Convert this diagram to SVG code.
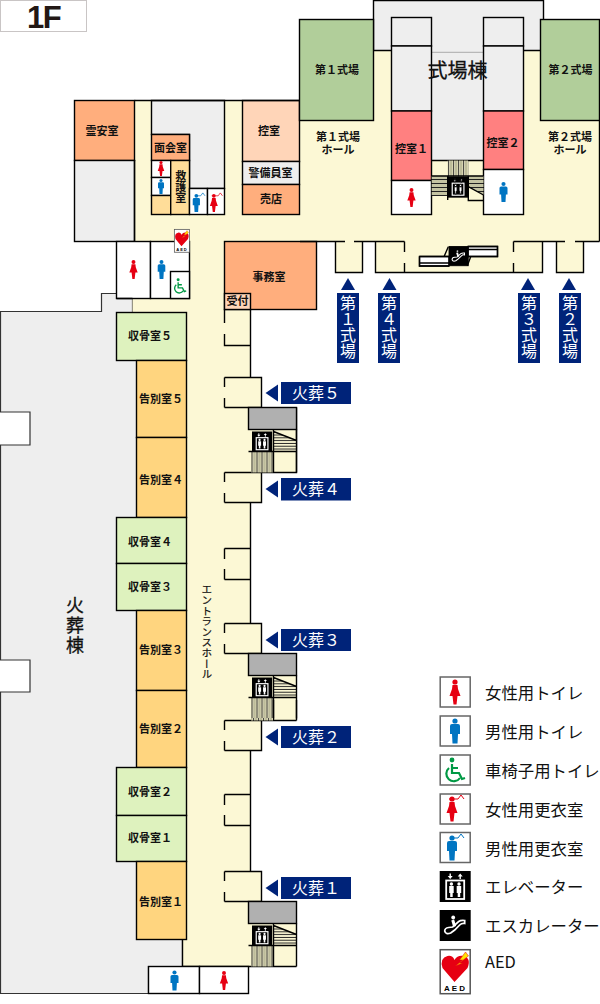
<svg xmlns="http://www.w3.org/2000/svg" width="600" height="1004" viewBox="0 0 600 1004">
<style>
text{font-family:"Noto Sans CJK JP","Noto Sans",sans-serif;fill:#111}
.b{font-size:11px;font-weight:700;text-anchor:middle}
.lg{font-size:16.4px}
.w{fill:#fff;font-size:16px}
.v{fill:#fff;font-size:16px;writing-mode:vertical-rl;text-orientation:upright}
.hv{stroke:#111;stroke-width:.3}
.l{stroke:#000;stroke-width:1.4;fill:none}
.s{stroke:#000;stroke-width:1.4}
.y{fill:#FCF8D5}.g{fill:#EEEEEE}.o{fill:#FFAE7D}.p{fill:#FFD5B8}.k{fill:#DEF2BE}.c{fill:#FFD57F}.m{fill:#FF8080}.h{fill:#B1CE9A}.wh{fill:#fff}
.n{fill:#002379}
.ib{fill:#fff;stroke:#666;stroke-width:1.5}
</style>
<defs>
<pattern id="tv" width="5" height="5" patternUnits="userSpaceOnUse"><rect width="5" height="5" fill="#FCF8D5"/><rect x="0" width="2.6" height="5" fill="#BDBC9A"/><rect x="3.2" width="1" height="5" fill="#222"/></pattern>
<pattern id="th" width="5" height="4" patternUnits="userSpaceOnUse"><rect width="5" height="4" fill="#C4C3A2"/><rect y="3" width="5" height="1" fill="#222"/></pattern>
<pattern id="tl" width="5" height="2.8" patternUnits="userSpaceOnUse"><rect width="5" height="2.8" fill="#FCF8D5"/><rect y="1.8" width="5" height="1" fill="#222"/></pattern>
<g id="f"><circle cy="-10" r="2.6" fill="#E60012"/><path fill="#E60012" d="M-2.5-7H2.5L3-3 5.5 4H2.5L1.5 12.5H-1.5L-2.5 4H-5.5L-3-3Z"/></g>
<g id="mm"><circle cy="-10" r="2.6" fill="#0075C2"/><path fill="#0075C2" d="M-3-7H3Q5-7 5-5V3H3L2.5 12.5H-2.5L-3 3H-5V-5Q-5-7-3-7Z"/></g>
<g id="wc" fill="none" stroke="#009944" stroke-width="2.2"><circle cx="-3" cy="-10" r="2.4" fill="#009944" stroke="none"/><path d="M-3-6V3H4L7 9 10 8M-3-2H3"/><path d="M-6-2A7.5 7.5 0 1 0 5 8"/></g>
<g id="fc"><use href="#f" x="-3"/><path d="M-1-10H3L6-14 9-10" fill="none" stroke="#E60012" stroke-width="1"/><rect x="-6" y="-10.5" width="1" height="1" fill="#E60012"/></g>
<g id="mc"><use href="#mm" x="-3"/><path d="M-1-10H3L6-14 9-10" fill="none" stroke="#0075C2" stroke-width="1"/></g>
<g id="ev"><rect width="31" height="31" fill="#000"/><rect x="6.500" y="9.500" width="18" height="18.500" fill="none" stroke="#fff" stroke-width="1.800"/><path fill="#fff" d="M10.500 8 8 5H9.800V2.500H11.200V5H13ZM20.500 2.500 23 5.500H21.200V8H19.800V5.500H18ZM9.500 15H14V22H13V26H10.500V22H9.500ZM17 15H21.500V22H20.500V26H18V22H17Z"/><circle cx="11.700" cy="13" r="1.700" fill="#fff"/><circle cx="19.300" cy="13" r="1.700" fill="#fff"/></g>
<g id="es"><rect width="31" height="31" fill="#000"/><path d="M5 21Q5 18 9 17.500L13 17 19 11.500Q21 10 25 10.500V13.500Q22 13 20 15L15 20 11 23Q6 25 5 21Z" fill="none" stroke="#fff" stroke-width="1.700"/><circle cx="13.500" cy="7.500" r="1.900" fill="#fff"/><path d="M13 10 15 16.500" stroke="#fff" stroke-width="3"/></g>
<g id="aed"><rect x=".7" y=".7" width="30" height="44" fill="#fff" stroke="#555" stroke-width="1.500"/><path d="M15 33 3 19Q0 9 8 7 13 6 15 11 18 6 24 7 32 9 28 19Z" fill="#E60012"/><path d="M26 3 20 11 23 11 16 17 23 14 20 14 29 7Z" fill="#FFE100" stroke="#E60012" stroke-width=".5"/><text x="16" y="42" font-size="8" font-weight="700" letter-spacing="2" text-anchor="middle" style="fill:#000;font-family:'Liberation Sans',sans-serif">AED</text></g>
<g id="stair"><rect x=".0" y="0" width="48" height="22" fill="#B0B0B0" class="s"/><rect x="2.500" y="44" width="22" height="21" fill="url(#tv)"/><polygon points="25,24 48,33 48,44 25,44" fill="url(#tl)"/><path class="l" d="M25 22V65M0 44H48M25 24 48 33M48 22V65"/><use href="#ev" transform="translate(3.500 24) scale(.65)"/></g>
</defs>

<g id="title"><rect x=".5" y=".5" width="86" height="31" fill="#fff" stroke="#C9C5C5" stroke-width="1"/><text x="43.500" y="28.400" text-anchor="middle" letter-spacing="-1.500" style="font-family:'Liberation Sans',sans-serif;font-size:31px;font-weight:700;fill:#231815">1F</text></g>

<g id="kasou-wing"><path class="g" stroke="#333" stroke-width="1.200" d="M.5 311.500H101.500V293.500H132.500V312.500H186V939.500H182.500V966.500H148.500V993.500H.5V692H30V660H.5V445H30V412H.5Z"/></g>

<g id="floor">
<rect class="y" x="134.500" y="100.500" width="465" height="141"/>
<rect class="y" x="299.500" y="50" width="300" height="60"/>
<rect class="y" x="189.500" y="241" width="35" height="60"/>
<rect class="y" x="132.500" y="298.500" width="100" height="15"/>
<rect class="y" x="186.500" y="298" width="64" height="642"/>
<rect class="y" x="182.500" y="939" width="68" height="27.500"/>
<rect class="y" x="335.500" y="241" width="27" height="31.500"/>
<rect class="y" x="375.500" y="241" width="167" height="31.500"/>
<rect class="y" x="556.500" y="241" width="27" height="31.500"/>
<rect class="y" x="224.500" y="309" width="26" height="36.500"/>
<rect class="y" x="224.500" y="377.500" width="37" height="30"/>
<rect class="y" x="224.500" y="472.500" width="37" height="30"/>
<rect class="y" x="224.500" y="548.500" width="26" height="31"/>
<rect class="y" x="224.500" y="623.500" width="37" height="30"/>
<rect class="y" x="224.500" y="720.500" width="37" height="30"/>
<rect class="y" x="224.500" y="794.500" width="26" height="31"/>
<rect class="y" x="224.500" y="871.500" width="37" height="30"/>
<rect class="y" x="248.500" y="407.500" width="48" height="65"/>
<rect class="y" x="248.500" y="653.500" width="48" height="67"/>
<rect class="y" x="248.500" y="901.500" width="48" height="65"/>
</g>

<g id="north-wing-rooms" class="s">
<rect id="reian" class="o" x="74.500" y="100.500" width="60" height="60"/>
<rect class="g" x="74.500" y="160.500" width="60" height="81"/>
<path class="g" d="M151.500 100.500H224.500V188.500H189.500V134.500H151.500Z"/>
<rect class="o" x="151.500" y="134.500" width="38" height="26"/>
<rect class="wh" x="151.500" y="160.500" width="19.200" height="17"/>
<rect class="wh" x="151.500" y="177.500" width="19.200" height="18"/>
<rect fill="#FFDD99" x="151.500" y="195.500" width="19.200" height="19"/>
<rect fill="#FFDD99" x="170.700" y="160.500" width="18.800" height="54"/>
<rect class="wh" x="189.500" y="188.500" width="18" height="26"/>
<rect class="wh" x="207.500" y="188.500" width="17" height="26"/>
<rect class="p" x="242.500" y="100.500" width="57" height="61"/>
<rect class="g" x="242.500" y="161.500" width="57" height="23"/>
<rect class="o" x="242.500" y="184.500" width="57" height="30"/>
<rect class="wh" x="116.500" y="241.500" width="34" height="57"/>
<rect class="wh" x="150.500" y="241.500" width="39" height="57"/>
<rect class="wh" x="170.500" y="271.500" width="19" height="27"/>
<rect class="o" x="224.500" y="241.500" width="92" height="68"/>
<rect class="p" x="224.500" y="293.500" width="26" height="16"/>
</g>

<g id="shikijo-wing" class="s">
<rect class="g" stroke="none" x="373.500" y=".5" width="170" height="50"/>
<rect class="g" stroke="none" x="431.500" y="50" width="52" height="110.500"/>
<path class="l" d="M373.500 50.500V.5H543.500V50.500M373.500 50.500H391.500M523.500 50.500H543.500M431.500 160.500H483.500"/>
<path fill="none" stroke="#aaa" stroke-width="1" d="M431.500 52.300H483.500"/>
<rect class="h" x="299.500" y="19.500" width="74" height="101"/>
<rect class="h" x="540.500" y="19.500" width="59" height="101"/>
<rect class="g" x="391.500" y="17.500" width="40" height="28.500"/>
<rect class="g" x="391.500" y="46" width="40" height="65"/>
<rect class="m" x="391.500" y="111" width="40" height="69.500"/>
<rect class="wh" x="391.500" y="180.500" width="40" height="34"/>
<rect class="g" x="483.500" y="17.500" width="40" height="28.500"/>
<rect class="g" x="483.500" y="46" width="40" height="65"/>
<rect class="m" x="483.500" y="111" width="40" height="58.500"/>
<rect class="wh" x="483.500" y="169.500" width="40" height="45"/>
<rect x="447.700" y="160.500" width="20.600" height="16" fill="url(#tv)" stroke="none"/>
<rect x="431.700" y="176" width="16" height="20" fill="url(#th)" stroke="none"/>
<polygon points="468.300,176 483.500,176 483.500,195 468.300,186.700" fill="url(#th)" stroke="none"/>
<path class="l" d="M431.500 176H483.500M447.700 176V200M468.300 176V200.500H483.500M468.300 186.700 483.500 195"/>
<use href="#ev" transform="translate(448 177) scale(.65)"/>
<path class="l" d="M599.500 120V241.500M300 241.500H345M354 241.500H404.500M513.500 241.500H565M575 241.500H599.500M335.500 241.500V272.500H362.500V241.500M375.500 241.500V272.500H542.500V241.500M556.500 241.500V272.500H583.500V241.500M404.500 241.500V252M404.500 263V272.500M513.500 241.500V252M513.500 263V272.500"/>
<path class="wh" d="M468 246.500H497.500V256.500H468ZM419.500 256.500H449V266H419.500Z"/>
<path class="l" d="M468 246.500H497.500V256.500H468M468 249.500H497.500M419.500 256.500H449M419.500 256.500V266H449M419.500 263H449M444.300 256 448.300 246.700M467.300 265.700 470.700 256.700"/>
<use href="#es" transform="translate(449 246.500) scale(.62)"/>
</g>

<g id="halls">
<path class="l" d="M134.500 100.500H299.500M134.500 160V241.500M132.500 298.500H116.500"/>
<path class="l" d="M224.500 309.500V323M224.500 334V345.500H250.500M250.500 309.500V377.500M224.500 377.500H261.500V407.500H224.500M224.500 377.500V387M224.500 398V407.500M250.500 502.500V548.500M224.500 472.500H296.500V407.500M261.500 472.500V502.500H224.500M224.500 472.500V482M224.500 493V502.500M224.500 548.500H250.500V579.500H224.500M224.500 548.500V559M224.500 569V579.500M250.500 579.500V623.500M224.500 623.500H261.500V653.500H224.500M224.500 623.500V633M224.500 644V653.500M224.500 720.500H296.500M261.500 720.500V750.500H224.500M224.500 720.500V730M224.500 741V750.500M250.500 750.500V794.500M224.500 794.500H250.500V825.500H224.500M224.500 794.500V805M224.500 815V825.500M250.500 825.500V871.500M224.500 871.500H261.500V901.500H224.500M224.500 871.500V881M224.500 892V901.500M182.500 939.500V966.500H296.500"/>
<use href="#stair" x="248.500" y="407.500"/>
<use href="#stair" x="248.500" y="653.500"/>
<path class="l" d="M296.500 700V720.500M273.500 700V720.500"/>
<rect x="251" y="718" width="22" height="2.500" fill="url(#tv)"/>
<use href="#stair" x="248.500" y="901.500"/>
</g>

<g id="kasou-rooms" class="s">
<rect class="k" x="116.500" y="312.500" width="70" height="48"/>
<rect class="c" x="136.500" y="360.500" width="50" height="77"/>
<rect class="c" x="136.500" y="437.500" width="50" height="80"/>
<rect class="k" x="116.500" y="517.500" width="70" height="46"/>
<rect class="k" x="116.500" y="563.500" width="70" height="47"/>
<rect class="c" x="136.500" y="610.500" width="50" height="80"/>
<rect class="c" x="136.500" y="690.500" width="50" height="77"/>
<rect class="k" x="116.500" y="767.500" width="70" height="48"/>
<rect class="k" x="116.500" y="815.500" width="70" height="46"/>
<rect class="c" x="136.500" y="861.500" width="50" height="78"/>
<rect class="wh" x="148.500" y="966.500" width="51" height="27"/>
<rect class="wh" x="199.500" y="966.500" width="49" height="27"/>
</g>

<g id="pictograms">
<use href="#f" transform="translate(161 168.500) scale(.6)"/>
<use href="#mm" transform="translate(161 186.500) scale(.6)"/>
<use href="#mc" transform="translate(198.500 203) scale(.72)"/>
<use href="#fc" transform="translate(216 203) scale(.72)"/>
<use href="#f" transform="translate(133.500 269.500) scale(.76)"/>
<use href="#mm" transform="translate(161.500 269.500) scale(.76)"/>
<use href="#wc" transform="translate(180 286) scale(.62)"/>
<use href="#aed" transform="translate(174 229) scale(.5 .52)"/>
<use href="#f" transform="translate(411.500 197.500) scale(.76)"/>
<use href="#mm" transform="translate(503.500 192) scale(.8)"/>
<use href="#mm" transform="translate(174.500 980.500) scale(.8)"/>
<use href="#f" transform="translate(224 980.500) scale(.76)"/>
</g>

<g id="room-labels">
<text class="b" x="102" y="135">霊安室</text>
<text class="b" x="170.500" y="152">面会室</text>
<text class="b" x="180.700" y="170" style="writing-mode:vertical-rl;text-anchor:start">救護室</text>
<text class="b" x="269" y="135">控室</text>
<text class="b" x="270.500" y="177">警備員室</text>
<text class="b" x="271" y="203">売店</text>
<text class="b" x="269" y="281">事務室</text>
<text class="b" x="237.500" y="305">受付</text>
<text class="b" x="337" y="74">第１式場</text>
<text class="b" x="570.500" y="74">第２式場</text>
<text class="b" x="338" y="141">第１式場<tspan x="338" dy="13">ホール</tspan></text>
<text class="b" x="570" y="141">第２式場<tspan x="570" dy="13">ホール</tspan></text>
<text class="hv" x="457.500" y="78" text-anchor="middle" font-size="20">式場棟</text>
<text class="b" x="411.500" y="153">控室１</text>
<text class="b" x="503" y="147">控室２</text>
<text class="b" x="150" y="340">収骨室５</text>
<text class="b" x="161" y="403">告別室５</text>
<text class="b" x="161" y="484">告別室４</text>
<text class="b" x="150" y="546">収骨室４</text>
<text class="b" x="150" y="591">収骨室３</text>
<text class="b" x="161" y="654">告別室３</text>
<text class="b" x="161" y="733">告別室２</text>
<text class="b" x="150" y="796">収骨室２</text>
<text class="b" x="150" y="842">収骨室１</text>
<text class="b" x="161" y="906">告別室１</text>
<text class="hv" x="206.700" y="584" font-size="10.600" style="writing-mode:vertical-rl;stroke-width:.2">エントランスホール</text>
<text class="hv" x="75" y="596" font-size="18" letter-spacing="2" style="writing-mode:vertical-rl;text-orientation:upright">火葬棟</text>
</g>

<g id="entrance-signs">
<g id="sign-sk1"><polygon class="n" points="348,278 355,290 341,290"/><rect class="n" x="337" y="293" width="22" height="70"/><text class="v" x="348" y="295">第１式場</text></g>
<g id="sign-sk4"><polygon class="n" points="389.500,278 396.500,290 382.500,290"/><rect class="n" x="378" y="293" width="22" height="70"/><text class="v" x="389" y="295">第４式場</text></g>
<g id="sign-sk3"><polygon class="n" points="528,278 535,290 521,290"/><rect class="n" x="518" y="293" width="22" height="70"/><text class="v" x="529" y="295">第３式場</text></g>
<g id="sign-sk2"><polygon class="n" points="569,278 576,290 562,290"/><rect class="n" x="559" y="293" width="22" height="70"/><text class="v" x="570" y="295">第２式場</text></g>
<g id="sign-k5"><polygon class="n" points="265.500,393 278,384.500 278,401.500"/><rect class="n" x="281" y="382" width="70" height="22"/><text class="w" x="292" y="399">火葬５</text></g>
<g id="sign-k4"><polygon class="n" points="265.500,489 278,480.500 278,497.500"/><rect class="n" x="281" y="478" width="70" height="22.500"/><text class="w" x="292" y="495">火葬４</text></g>
<g id="sign-k3"><polygon class="n" points="265.500,640 278,631.500 278,648.500"/><rect class="n" x="281" y="629" width="70" height="22"/><text class="w" x="292" y="646">火葬３</text></g>
<g id="sign-k2"><polygon class="n" points="265.500,737 278,728.500 278,745.500"/><rect class="n" x="281" y="726" width="70" height="22"/><text class="w" x="292" y="743">火葬２</text></g>
<g id="sign-k1"><polygon class="n" points="265.500,888 278,879.500 278,896.500"/><rect class="n" x="281" y="877" width="70" height="22"/><text class="w" x="292" y="894">火葬１</text></g>
</g>

<g id="legend">
<rect class="ib" x="440.200" y="677" width="30" height="30"/><use href="#f" transform="translate(455 692)"/>
<rect class="ib" x="440.200" y="716" width="30" height="30"/><use href="#mm" transform="translate(455 731)"/>
<rect class="ib" x="440.200" y="755" width="30" height="30"/><use href="#wc" transform="translate(455 770)"/>
<rect class="ib" x="440.200" y="794" width="30" height="30"/><use href="#fc" transform="translate(455 809)"/>
<rect class="ib" x="440.200" y="832.500" width="30" height="30"/><use href="#mc" transform="translate(455 848)"/>
<use href="#ev" x="439.700" y="871"/>
<use href="#es" x="439.700" y="910"/>
<use href="#aed" x="439.500" y="949"/>
<text class="lg" x="485" y="699">女性用トイレ</text>
<text class="lg" x="485" y="738">男性用トイレ</text>
<text class="lg" x="485" y="777">車椅子用トイレ</text>
<text class="lg" x="485" y="816">女性用更衣室</text>
<text class="lg" x="485" y="854.500">男性用更衣室</text>
<text class="lg" x="485" y="893">エレベーター</text>
<text class="lg" x="485" y="932">エスカレーター</text>
<text class="lg" x="485" y="968">AED</text>
</g>
</svg>
